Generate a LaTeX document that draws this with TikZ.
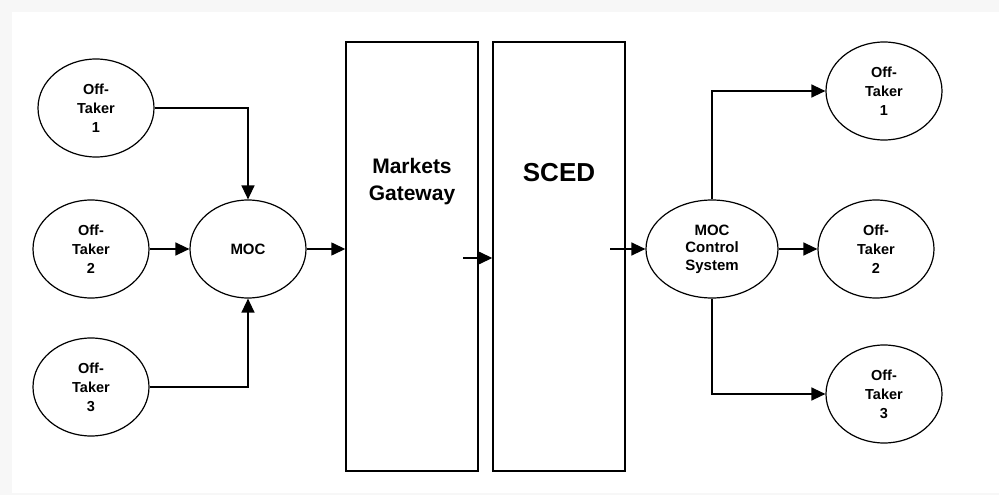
\documentclass[tikz,border=0pt]{standalone}
\usepackage{fontspec}
\setmainfont{Liberation Sans}
\usetikzlibrary{arrows.meta}
\usetikzlibrary{shapes}
\tikzstyle{offtaker} = [ellipse, minimum width=116pt, minimum height=98pt, inner sep=0pt, draw=black, line width=1.2pt, align=center, font=\bfseries\fontsize{14.5}{19}\selectfont]
\tikzstyle{moctaker} = [ellipse, minimum width=132pt, minimum height=98pt, inner sep=0pt, draw=black, line width=1.2pt, align=center, font=\bfseries\fontsize{15}{17.5}\selectfont]
\tikzstyle{system} = [rectangle, minimum width=132pt, minimum height=429pt, inner sep=0pt, draw=black, line width=1.4pt]
\tikzstyle{arrow} = [line width=1.4pt,->,>={Triangle[length=14pt,width=13pt]}]

\begin{document}
\begin{tikzpicture}[x=1pt, y=-1pt, node distance=157pt]

\fill [gray!6] (0,0) rectangle (999,495);
\fill [white] (12,12) rectangle (999,493);

\node [offtaker] (lot2) at (91,249) {Off-\\Taker\\2};
\node [offtaker, font=\bfseries\fontsize{15}{18}\selectfont, right of = lot2] (moc) {MOC};
\node [offtaker, above of = lot2, xshift=5pt, yshift=-16pt] (lot1) {Off-\\Taker\\1};
\node [offtaker, below of = lot2, yshift=19pt] (lot3) {Off-\\Taker\\3};

\node [system, right of = moc, xshift=7pt, yshift=-7.5pt, label={[yshift=74.5pt, align=center, font=\bfseries\fontsize{21}{27}\selectfont]center:Markets\\Gateway}] (mg) {};
\node [system, right of = mg, xshift=-10pt, label={[yshift=83.5pt, font=\bfseries\fontsize{26}{30}\selectfont]center:SCED}] (sced) {};

\node [moctaker, right of = sced, xshift=-4pt, yshift=7.5pt] (mocs) {MOC\\Control\\System};
\node [offtaker, right of = mocs, xshift=7pt] (rot2) {Off-\\Taker\\2};
\node [offtaker, above of = rot2, xshift=8pt, yshift=1pt] (rot1) {Off-\\Taker\\1};
\node [offtaker, below of = rot2, xshift=8pt, yshift=12pt] (rot3) {Off-\\Taker\\3};

\coordinate (mgout) at (463,258);
\coordinate (scedout) at (610,249);

\draw [arrow] (lot1) -| (moc);
\draw [arrow] (lot2) -- (moc);
\draw [arrow] (lot3) -| (moc);
\draw [arrow] (moc.east) -- (moc.east -| mg.west);

\draw [arrow] (mgout) -- (mgout -| sced.west);
\draw [arrow] (scedout) -- (mocs);

\draw [arrow] (mocs) |- (rot1);
\draw [arrow] (mocs) -- (rot2);
\draw [arrow] (mocs) |- (rot3);

\end{tikzpicture}
\end{document}
